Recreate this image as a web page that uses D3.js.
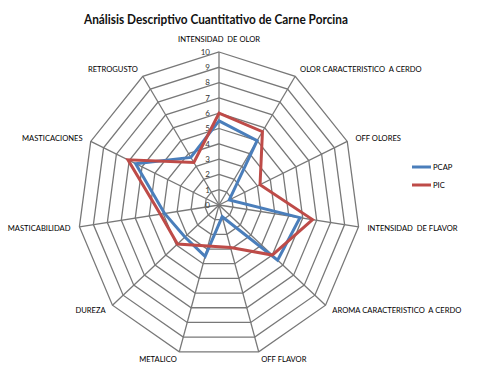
<!DOCTYPE html>
<html>
<head>
<meta charset="utf-8">
<script src="https://cdn.jsdelivr.net/npm/d3@7"></script>
<style>
  body { margin: 0; background: #fff; }
  svg { display: block; }
</style>
</head>
<body>
<div id="chart"></div>
<script>
// Axis names, clockwise from the top
var axes = [
    "INTENSIDAD  DE OLOR",
    "OLOR CARACTERISTICO  A CERDO",
    "OFF OLORES",
    "INTENSIDAD  DE FLAVOR",
    "AROMA CARACTERISTICO  A CERDO",
    "OFF FLAVOR",
    "METALICO",
    "DUREZA",
    "MASTICABILIDAD",
    "MASTICACIONES",
    "RETROGUSTO"
];
var seriesNames = ["PCAP", "PIC"];
var pcap = [5.5, 5.0, 0.8, 5.8, 5.5, 0.8, 3.5, 3.2, 3.9, 6.5, 3.7];
var pic = [6.0, 5.7, 3.2, 6.7, 5.0, 2.9, 2.8, 3.9, 4.2, 7.1, 3.3];
var ticks = [0, 1, 2, 3, 4, 5, 6, 7, 8, 9, 10];
var colors = ["#4a7ebb", "#be4b48"];

var svgWidth = 481,
    svgHeight = 375,
    cx = 219,
    cy = 205,
    rx = 141,   // picture is a bit squashed sideways
    ry = 153;

var svg = d3.select("#chart").append("svg")
    .attr("width", svgWidth)
    .attr("height", svgHeight);

var rScale = d3.scaleLinear().domain([0, 10]).range([0, 1]);
var angle = d3.scaleLinear().domain([0, axes.length]).range([0, 2 * Math.PI]);

function px(i, v) { return cx + rScale(v) * rx * Math.sin(angle(i)); }
function py(i, v) { return cy - rScale(v) * ry * Math.cos(angle(i)); }

var grid = svg.append("g");

// rings
ticks.slice(1).forEach(function(t) {
    grid.append("polygon")
        .attr("points", axes.map(function(a, i) { return px(i, t) + "," + py(i, t); }).join(" "))
        .attr("fill", "none")
        .attr("stroke", "#787878")
        .attr("stroke-width", 1.3);
});

// spokes
grid.selectAll("line")
    .data(axes)
    .enter()
    .append("line")
        .attr("x1", cx).attr("y1", cy)
        .attr("x2", function(d, i) { return px(i, 10); })
        .attr("y2", function(d, i) { return py(i, 10); })
        .attr("stroke", "#787878")
        .attr("stroke-width", 1.3);

// tick labels on the top spoke
svg.append("g")
    .selectAll("text")
    .data(ticks)
    .enter()
    .append("text")
        .attr("x", cx - 9)
        .attr("y", function(d) { return py(0, d); })
        .attr("dy", "0.35em")
        .attr("text-anchor", "end")
        .attr("font-family", "Lato, sans-serif")
        .attr("font-size", 8)
        .attr("fill", "#333")
        .text(function(d) { return d; });

// axis labels
svg.append("g")
    .selectAll("text")
    .data(axes)
    .enter()
    .append("text")
        .attr("x", function(d, i) { return px(i, 10) + 9 * Math.sin(angle(i)); })
        .attr("y", function(d, i) {
            var s = Math.sin(angle(i));
            if (Math.abs(s) < 0.1) return py(i, 10) - 13;
            return py(i, 10) - 8 * Math.cos(angle(i));
        })
        .attr("dy", "0.35em")
        .attr("text-anchor", function(d, i) {
            var s = Math.sin(angle(i));
            return Math.abs(s) < 0.1 ? "middle" : (s > 0 ? "start" : "end");
        })
        .attr("font-family", "Lato, sans-serif")
        .attr("font-size", 7.6)
        .attr("fill", "#000")
        .style("white-space", "pre")
        .text(function(d) { return d; });

// series
var line = d3.line().curve(d3.curveLinearClosed);
[pcap, pic].forEach(function(vals, k) {
    svg.append("path")
        .attr("d", line(vals.map(function(v, i) { return [px(i, v), py(i, v)]; })))
        .attr("fill", "none")
        .attr("stroke", colors[k])
        .attr("stroke-width", 3)
        .attr("stroke-linejoin", "miter");
});

// legend
var legend = svg.append("g").attr("transform", "translate(412, 167)");
seriesNames.forEach(function(name, k) {
    legend.append("line")
        .attr("x1", 0).attr("x2", 19)
        .attr("y1", k * 18).attr("y2", k * 18)
        .attr("stroke", colors[k])
        .attr("stroke-width", 3);
    legend.append("text")
        .attr("x", 21)
        .attr("y", k * 18)
        .attr("dy", "0.35em")
        .attr("font-family", "Lato, sans-serif")
        .attr("font-size", 7.6)
        .attr("fill", "#000")
        .text(name);
});

// title
svg.append("text")
    .attr("x", 216)
    .attr("y", 24)
    .attr("text-anchor", "middle")
    .attr("font-family", "Lato, sans-serif")
    .attr("font-weight", "bold")
    .attr("font-size", 13)
    .attr("textLength", 264)
    .attr("lengthAdjust", "spacingAndGlyphs")
    .attr("fill", "#111")
    .text("Análisis Descriptivo Cuantitativo de Carne Porcina");
</script>
</body>
</html>
